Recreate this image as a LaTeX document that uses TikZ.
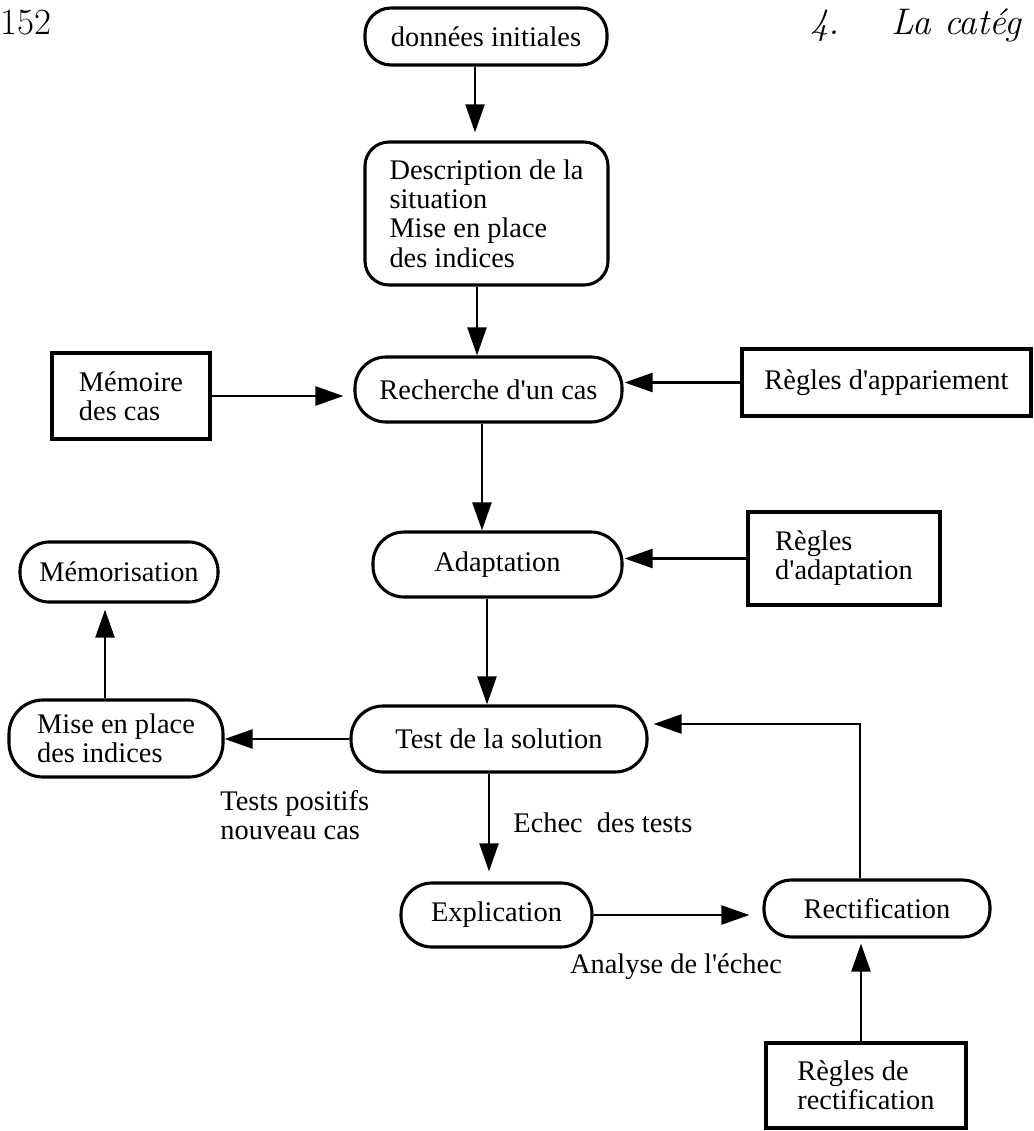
\documentclass[tikz,border=0pt]{standalone}
\usepackage{fontspec}
\newfontfamily\tnr{Liberation Serif}
\usetikzlibrary{arrows.meta}
\newcommand\apos{\textquotesingle}
\begin{document}
\begin{tikzpicture}[x=0.5pt,y=-0.5pt,
  txt/.style={font=\tnr\fontsize{14.2}{14.6}\selectfont},
  rbox/.style={txt, draw, line width=1.55pt, inner sep=0pt, align=center},
  sbox/.style={txt, draw, line width=1.55pt, inner sep=0pt, align=left},
  lbl/.style={txt, inner sep=0pt, align=left},
  arr/.style={line width=1.45pt, -{Triangle[length=14pt,width=9.4pt]}},
  hdr/.style={inner sep=0pt, font=\fontsize{18.5}{20}\selectfont}]
\useasboundingbox (0,0) rectangle (1034,1131);

% header
\node[hdr, anchor=base west] (pg) at (0,34) {152};
\node[hdr, anchor=base west] (ch) at (810,34) {\itshape 4.\hspace{1.4em}La catég};

% nodes
\node[rbox, minimum width=121pt, minimum height=28.5pt, rounded corners=13pt] (donnees) at (486,36.5) {données initiales};
\node[rbox, align=left, minimum width=121.5pt, minimum height=71.5pt, rounded corners=12pt] (desc) at (486.5,213.5) {Description de la\\situation\\Mise en place\\des indices};
\node[rbox, minimum width=133.5pt, minimum height=32.5pt, rounded corners=15.5pt] (rech) at (488.5,389.5) {Recherche d\apos un cas};
\node[sbox, minimum width=79pt, minimum height=43pt] (memc) at (131,396) {Mémoire\\des cas};
\node[sbox, minimum width=144.5pt, minimum height=33.5pt] (appar) at (886.5,382.5) {Règles d\apos appariement};
\node[rbox, minimum width=124.5pt, minimum height=32.5pt, rounded corners=15.5pt] (adapt) at (497.5,564.5) {Adaptation};
\node[sbox, minimum width=96pt, minimum height=46.5pt] (radapt) at (844,558.5) {Règles\\d\apos adaptation};
\node[rbox, minimum width=99pt, minimum height=30pt, rounded corners=14.5pt] (memo) at (119,572) {Mémorisation};
\node[rbox, align=left, minimum width=107pt, minimum height=38.5pt, rounded corners=17pt] (mise) at (116,738.5) {Mise en place\\des indices};
\node[rbox, minimum width=148pt, minimum height=33pt, rounded corners=16pt] (test) at (499,739) {Test de la solution};
\node[rbox, minimum width=95.5pt, minimum height=32pt, rounded corners=15.5pt] (expl) at (496.5,915) {Explication};
\node[rbox, minimum width=113pt, minimum height=28.5pt, rounded corners=13.5pt] (rect) at (877,908.5) {Rectification};
\node[sbox, minimum width=100pt, minimum height=42.5pt] (rrect) at (866,1085.5) {Règles de\\rectification};

% labels
\node[lbl, anchor=west] (tp) at (220,815) {Tests positifs\\nouveau cas};
\node[lbl, anchor=west] (echec) at (513,823) {Echec\ \ des tests};
\node[lbl] (analyse) at (676,967) {Analyse de l\apos échec};

% connector anchors
\coordinate (c1) at ([xshift=-5.5pt]donnees.south);
\coordinate (c2) at ([xshift=-4.75pt]desc.south);
\coordinate (c5) at ([xshift=-3.25pt]rech.south);
\coordinate (c7) at ([xshift=-5.25pt]adapt.south);
\coordinate (c9) at ([xshift=-5.5pt]mise.north);
\coordinate (c10) at ([xshift=-5pt]test.south);
\coordinate (c12) at ([xshift=-8.5pt]rect.north);
\coordinate (t12) at ([yshift=7.5pt]test.east);
\coordinate (c13) at ([xshift=-2.5pt]rrect.north);

% connectors
\draw[arr, shorten >=4pt] (c1) -- (c1 |- desc.north);
\draw[arr] (c2) -- (c2 |- rech.north);
\draw[arr, shorten >=5pt] (memc.east) -- (memc.east -| rech.west);
\draw[arr, shorten >=0.5pt] (appar.west) -- (appar.west -| rech.east);
\draw[arr] (c5) -- (c5 |- adapt.north);
\draw[arr, shorten >=0.5pt] (radapt.west) -- (radapt.west -| adapt.east);
\draw[arr] (c7) -- (c7 |- test.north);
\draw[arr] (test.west) -- (test.west -| mise.east);
\draw[arr, shorten >=3pt] (c9) -- (c9 |- memo.south);
\draw[arr, shorten >=5pt] (c10) -- (c10 |- expl.north);
\draw[arr, shorten >=6.5pt] (expl.east) -- (expl.east -| rect.west);
\draw[arr, shorten >=2.5pt] (c12) |- (t12);
\draw[arr, shorten >=2.5pt] (c13) -- (c13 |- rect.south);
\end{tikzpicture}
\end{document}
